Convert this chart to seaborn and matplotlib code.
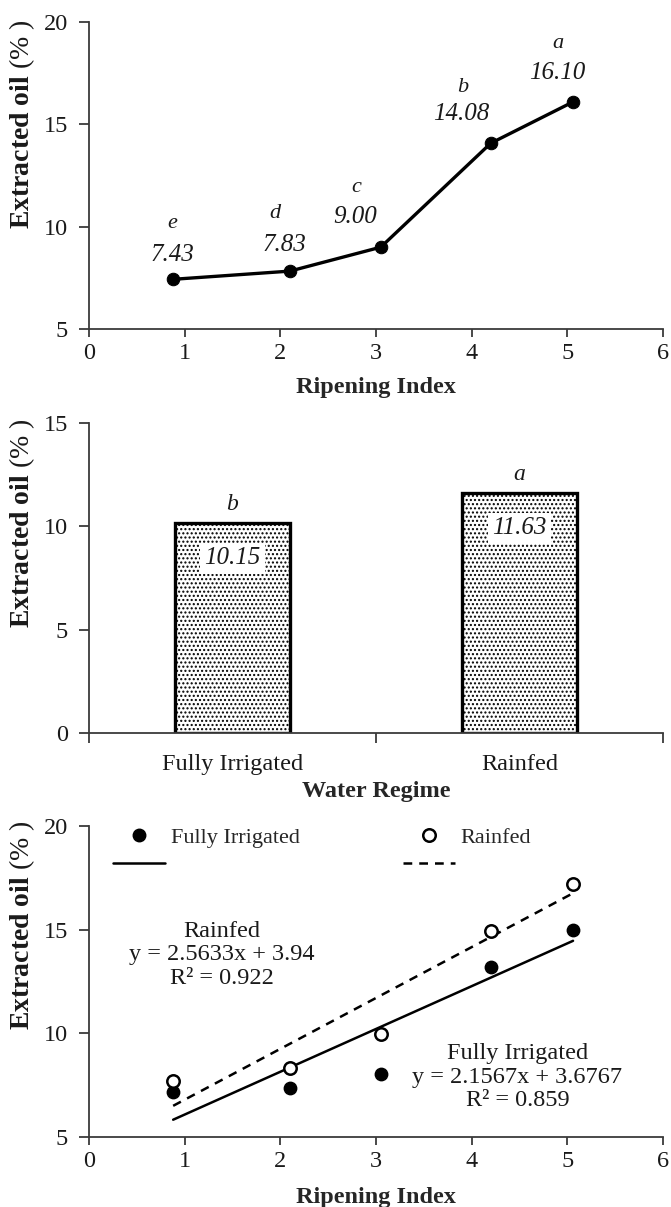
import matplotlib
matplotlib.use("Agg")
import matplotlib.pyplot as plt
from matplotlib.lines import Line2D
import pandas as pd
import seaborn as sns

# data
ripening_index = [0.88, 2.10, 3.05, 4.20, 5.06]
oil_by_ripening = [7.43, 7.83, 9.00, 14.08, 16.10]
ripening_letters = ["e", "d", "c", "b", "a"]

water_regimes = ["Fully Irrigated", "Rainfed"]
oil_by_regime = [10.15, 11.63]
regime_letters = ["b", "a"]

oil_fully_irrigated = [7.15, 7.35, 8.05, 13.20, 15.00]
oil_rainfed = [7.70, 8.35, 9.95, 14.95, 17.20]
trend_slope = {"Fully Irrigated": 2.1567, "Rainfed": 2.5633}
trend_intercept = {"Fully Irrigated": 3.6767, "Rainfed": 3.94}
trend_r2 = {"Fully Irrigated": 0.859, "Rainfed": 0.922}

sns.set_theme(style="ticks")
plt.rcParams.update({
    "font.family": ["Liberation Serif", "DejaVu Serif"],
    "mathtext.fontset": "custom",
    "mathtext.rm": "Liberation Serif",
    "mathtext.bf": "Liberation Serif:bold",
    "mathtext.it": "Liberation Serif:italic",
    "hatch.linewidth": 1.0,
})

AXIS_COLOR = "#3a3a3a"
TXT = "#1a1a1a"
TICK_FS = 17.5
LABEL_FS = 17.5
NOTE_FS = 17
YLABEL = r"$\mathbf{Extracted\ oil}$ (% )"


def style_axes(ax, label_y):
    sns.despine(ax=ax)
    for s in ["left", "bottom"]:
        ax.spines[s].set_color(AXIS_COLOR)
        ax.spines[s].set_linewidth(1.3)
    ax.tick_params(axis="both", colors=AXIS_COLOR, labelcolor=TXT,
                   labelsize=TICK_FS, width=1.3)
    ax.tick_params(axis="y", length=7, pad=8)
    ax.tick_params(axis="x", length=6, pad=4)
    ax.set_ylabel(YLABEL, fontsize=20, va="center", color=TXT)
    ax.yaxis.set_label_coords(-0.117, label_y)


fig = plt.figure(figsize=(6.71, 12.07), dpi=100)
ax1 = fig.add_axes([0.1326, 0.7274, 0.8554, 0.2543])
ax2 = fig.add_axes([0.1326, 0.3927, 0.8554, 0.2568])
ax3 = fig.add_axes([0.1326, 0.0580, 0.8554, 0.2577])

# ---- panel 1: oil vs ripening index
df1 = pd.DataFrame({"ri": ripening_index, "oil": oil_by_ripening})
sns.lineplot(data=df1, x="ri", y="oil", ax=ax1, color="black", lw=2.4,
             marker="o", markersize=9, markeredgecolor="black", sort=False)
# label offsets (layout only)
letter_off = [(-0.01, 2.74), (-0.16, 2.83), (-0.26, 2.90), (-0.29, 2.72), (-0.16, 2.85)]
value_off = [(-0.01, 1.17), (-0.06, 1.27), (-0.27, 1.46), (-0.31, 1.42), (-0.16, 1.40)]
for x, y, let, lo, vo in zip(ripening_index, oil_by_ripening, ripening_letters,
                             letter_off, value_off):
    ax1.text(x + lo[0], y + lo[1], let, ha="center", va="center",
             style="italic", fontsize=NOTE_FS - 1, color=TXT)
    ax1.text(x + vo[0], y + vo[1], f"{y:.2f}", ha="center", va="center",
             style="italic", fontsize=NOTE_FS + 1, color=TXT)
ax1.set_xlim(0, 6)
ax1.set_ylim(5, 20)
ax1.set_xticks(range(0, 7))
ax1.set_yticks([5, 10, 15, 20])
style_axes(ax1, 0.668)
ax1.set_xlabel("Ripening Index", fontsize=LABEL_FS, fontweight="bold", va="center")
ax1.xaxis.set_label_coords(0.5, -0.192)

# ---- panel 2: oil by water regime
df2 = pd.DataFrame({"regime": water_regimes, "oil": oil_by_regime})
sns.barplot(data=df2, x="regime", y="oil", ax=ax2, width=0.4, color="white",
            edgecolor="black", linewidth=2.4, hatch="....", saturation=1)
for i, (v, let) in enumerate(zip(oil_by_regime, regime_letters)):
    ax2.text(i, v + 0.9, let, ha="center", va="center", style="italic",
             fontsize=NOTE_FS, color=TXT)
    ax2.text(i, v - 1.7, f"{v:.2f}", ha="center", va="center", style="italic",
             fontsize=NOTE_FS + 1, color=TXT,
             bbox=dict(facecolor="white", edgecolor="none", pad=3))
ax2.set_xlim(-0.5, 1.5)
ax2.set_ylim(0, 15)
ax2.set_yticks([0, 5, 10, 15])
style_axes(ax2, 0.677)
ax2.set_xticks([-0.5, 0.5, 1.5], minor=True)
ax2.tick_params(axis="x", which="minor", length=7, width=1.3, color=AXIS_COLOR)
ax2.tick_params(axis="x", which="major", length=0, pad=15)
ax2.set_xlabel("Water Regime", fontsize=LABEL_FS, fontweight="bold", va="center")
ax2.xaxis.set_label_coords(0.5, -0.19)

# ---- panel 3: both regimes with linear trends
df3 = pd.DataFrame({
    "ri": ripening_index * 2,
    "oil": oil_fully_irrigated + oil_rainfed,
    "regime": ["Fully Irrigated"] * 5 + ["Rainfed"] * 5,
})
fi = df3[df3.regime == "Fully Irrigated"]
rf = df3[df3.regime == "Rainfed"]
sns.scatterplot(data=fi, x="ri", y="oil", ax=ax3, color="black", s=80,
                edgecolor="black", linewidth=1, zorder=3)
sns.scatterplot(data=rf, x="ri", y="oil", ax=ax3, facecolor="white", s=80,
                edgecolor="black", linewidth=1.8, zorder=3)

n = len(ripening_index)
for name, ls in [("Fully Irrigated", "-"), ("Rainfed", (0, (3.5, 2.8)))]:
    tr = pd.DataFrame({
        "ri": [ripening_index[0], ripening_index[-1]],
        "oil": [trend_slope[name] * 1 + trend_intercept[name],
                trend_slope[name] * n + trend_intercept[name]],
    })
    sns.lineplot(data=tr, x="ri", y="oil", ax=ax3, color="black", lw=1.8,
                 linestyle=ls, zorder=2)

for name, xc, yc in [("Rainfed", 1.39, 13.78), ("Fully Irrigated", 4.48, 7.89)]:
    txt = (f"{name}\ny = {trend_slope[name]}x + {trend_intercept[name]}\n"
           f"R\u00b2 = {trend_r2[name]}")
    ax3.text(xc, yc, txt, ha="center", va="center", fontsize=NOTE_FS + 0.5,
             linespacing=1.15, color=TXT)

handles = [
    Line2D([], [], ls="none", marker="o", markersize=9, color="black"),
    Line2D([], [], ls="-", lw=1.8, color="black"),
    Line2D([], [], ls="none", marker="o", markersize=9, markerfacecolor="white",
           markeredgecolor="black", markeredgewidth=1.8),
    Line2D([], [], ls=(0, (3.5, 2.8)), lw=1.8, color="black"),
]
ax3.legend(handles, ["Fully Irrigated", " ", "Rainfed", " "], ncol=2,
           loc="upper left", bbox_to_anchor=(0.042, 0.995), frameon=False,
           fontsize=16, handlelength=2.35, handletextpad=0.25,
           columnspacing=4.65, labelspacing=0.3, borderpad=0, borderaxespad=0)

ax3.set_xlim(0, 6)
ax3.set_ylim(5, 20)
ax3.set_xticks(range(0, 7))
ax3.set_yticks([5, 10, 15, 20])
style_axes(ax3, 0.682)
ax3.set_xlabel("Ripening Index", fontsize=LABEL_FS, fontweight="bold", va="center")
ax3.xaxis.set_label_coords(0.5, -0.196)

fig.savefig("out.png", dpi=100)
plt.close(fig)
